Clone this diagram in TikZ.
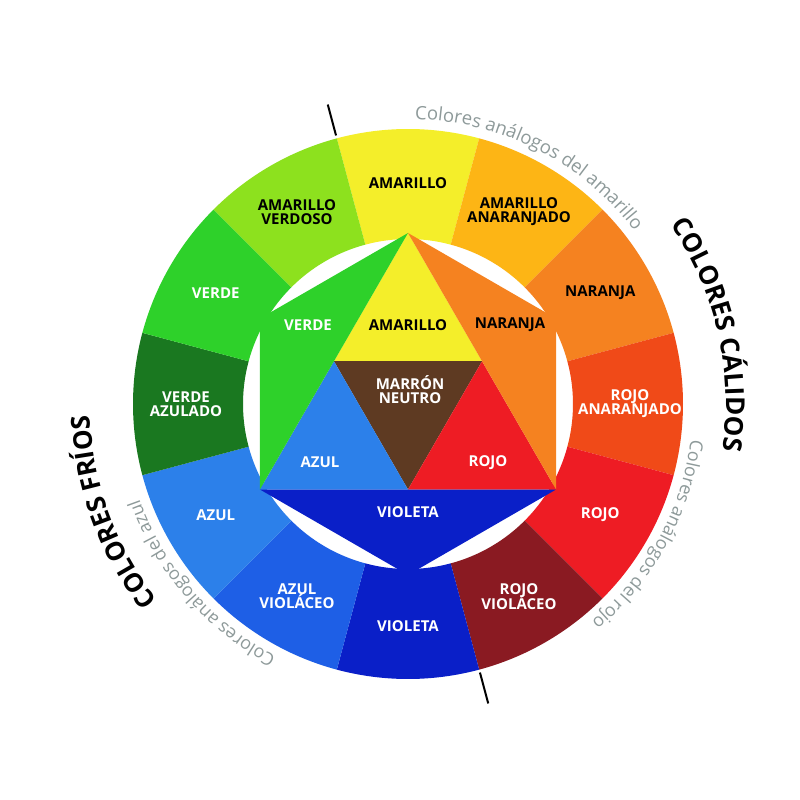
\documentclass[tikz,border=0pt]{standalone}
\usepackage{fontspec}
\setmainfont{Open Sans}
\usetikzlibrary{decorations.text}
\definecolor{cAm}{HTML}{F4EE2A}
\definecolor{cAmN}{HTML}{FDB515}
\definecolor{cNa}{HTML}{F58220}
\definecolor{cRoN}{HTML}{F04A18}
\definecolor{cRo}{HTML}{EE1C24}
\definecolor{cRoV}{HTML}{8A1A22}
\definecolor{cVi}{HTML}{0A1FC8}
\definecolor{cAzV}{HTML}{1E5FE6}
\definecolor{cAz}{HTML}{2C80EA}
\definecolor{cVeA}{HTML}{1A7820}
\definecolor{cVe}{HTML}{2ED12A}
\definecolor{cAmV}{HTML}{8DE11E}
\definecolor{cMa}{HTML}{5E3A22}
\definecolor{cGr}{HTML}{8E9A9A}
\begin{document}
\begin{tikzpicture}[x=1pt,y=1pt,
  lab/.style={font=\fontsize{15}{17}\selectfont\bfseries, align=center},
  wl/.style={lab,text=white}, bl/.style={lab,text=black}]
\useasboundingbox (-408,-396) rectangle (392,404);
\fill[white] (-408,-396) rectangle (392,404);
\foreach \a/\c in {90/cAm,60/cAmN,30/cNa,0/cRoN,-30/cRo,-60/cRoV,-90/cVi,-120/cAzV,-150/cAz,180/cVeA,150/cVe,120/cAmV}{
  \fill[\c] (\a-15:165) arc (\a-15:\a+15:165) -- (\a+15:275) arc (\a+15:\a-15:275) -- cycle;
}
\node[bl] (r1) at (90:221) {AMARILLO};
\node[bl] (r2) at (60:222) {AMARILLO\\[-3pt]ANARANJADO};
\node[bl] (r3) at (30:222) {NARANJA};
\node[wl] (r4) at (0:222) {ROJO\\[-3pt]ANARANJADO};
\node[wl] (r5) at (-30:222) {ROJO};
\node[wl] (r6) at (-60:222) {ROJO\\[-3pt]VIOLÁCEO};
\node[wl] (r7) at (-90:222) {VIOLETA};
\node[wl] (r8) at (-120:222) {AZUL\\[-3pt]VIOLÁCEO};
\node[wl] (r9) at (-150:222) {AZUL};
\node[wl] (r10) at (180:222) {VERDE\\[-3pt]AZULADO};
\node[wl] (r11) at (150:222) {VERDE};
\node[bl] (r12) at (120:222) {AMARILLO\\[-3pt]VERDOSO};
% inner
\coordinate (T) at (90:171); \coordinate (L) at (210:171); \coordinate (R) at (330:171);
\coordinate (B) at (270:171); \coordinate (HL) at (150:171); \coordinate (HR) at (30:171);
\coordinate (m1) at (150:85.5); \coordinate (m2) at (30:85.5); \coordinate (m3) at (270:85.5);
\fill[cAm] (T) -- (m1) -- (m2) -- cycle;
\fill[cMa] (m1) -- (m2) -- (m3) -- cycle;
\fill[cAz] (m1) -- (L) -- (m3) -- cycle;
\fill[cRo] (m2) -- (m3) -- (R) -- cycle;
\fill[cVe] (HL) -- (T) -- (m1) -- (L) -- cycle;
\fill[cNa] (HR) -- (T) -- (m2) -- (R) -- cycle;
\fill[cVi] (L) -- (R) -- (B) -- cycle;
\node[bl] (i1) at (0,79) {AMARILLO};
\node[bl] (i2) at (102,79) {NARANJA};
\node[wl] (i3) at (-100,79) {VERDE};
\node[wl] (i4) at (2,14) {MARRÓN\\[-3pt]NEUTRO};
\node[wl] (i5) at (-88,-58) {AZUL};
\node[wl] (i6) at (80,-59) {ROJO};
\node[wl] (i7) at (0,-108) {VIOLETA};
% divider line
\coordinate (d1) at (105:278); \coordinate (d2) at (105:310);
\coordinate (d3) at (-75:278); \coordinate (d4) at (-75:310);
\draw[line width=2pt] (d1) -- (d2);
\draw[line width=2pt] (d3) -- (d4);
% arc texts
\path[decorate,decoration={text along path,text align=center,
  text={|\fontsize{18.5}{19}\selectfont\color{cGr}|Colores análogos del amarillo}}]
  (96:285) arc (96:30:285);
\path[decorate,decoration={text along path,text align=center,
  text={|\fontsize{18}{19}\selectfont\color{cGr}|Colores análogos del rojo}}]
  (-2:285) arc (-2:-55:285);
\path[decorate,decoration={text along path,text align=center,
  text={|\fontsize{18}{19}\selectfont\color{cGr}|Colores análogos del azul}}]
  (-112:285) arc (-112:-166:285);
\path[decorate,decoration={text along path,text align=center,
  text={|\fontsize{26}{26}\selectfont\bfseries|COLORES CÁLIDOS}}]
  (38:318) arc (38:-12:318);
\path[decorate,decoration={text along path,text align=center,
  text={|\fontsize{26}{26}\selectfont\bfseries|COLORES FRÍOS}}]
  (-137:318) arc (-137:-183:318);
\end{tikzpicture}
\end{document}
